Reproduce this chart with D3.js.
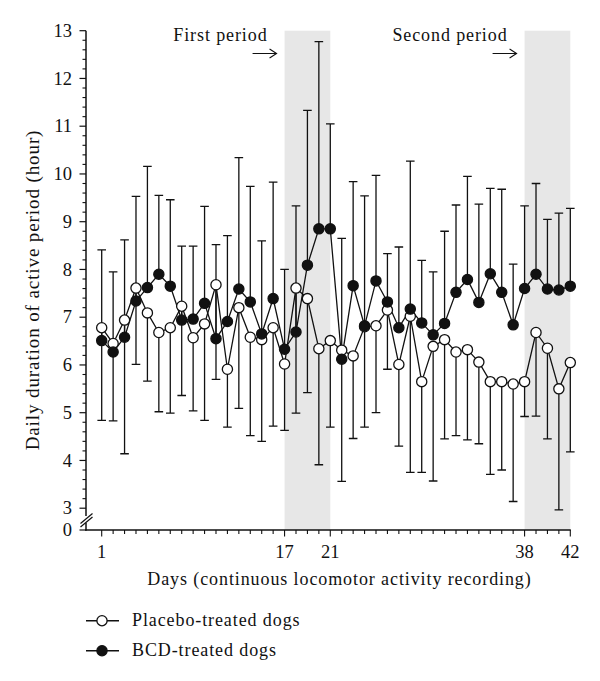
<!DOCTYPE html>
<html>
<head>
<meta charset="utf-8">
<script src="https://cdn.jsdelivr.net/npm/d3@7"></script>
<style>
  html, body { margin: 0; padding: 0; background: #fff; }
  svg { display: block; }
  text { font-family: "Liberation Serif", "Times New Roman", serif; fill: #111; }
</style>
</head>
<body>
<svg id="chart" width="600" height="681"></svg>
<script>
// ---------------- data ----------------
const days = d3.range(1, 43);
const placeboMean = [6.78, 6.45, 6.94, 7.61, 7.09, 6.68, 6.78, 7.23, 6.57, 6.86,
  7.68, 5.91, 7.20, 6.58, 6.53, 6.78, 6.02, 7.61, 7.39, 6.34,
  6.51, 6.31, 6.19, 6.80, 6.82, 7.15, 6.01, 7.02, 5.65, 6.39,
  6.53, 6.27, 6.32, 6.06, 5.65, 5.65, 5.60, 5.65, 6.68, 6.35,
  5.50, 6.05];
const placeboLow = [4.84, 4.83, 4.14, 6.01, 5.66, 5.02, 4.99, 5.36, 5.04, 4.84,
  5.70, 4.70, 5.09, 4.52, 4.40, 4.72, 4.63, 4.99, 5.42, 3.91,
  4.70, 3.56, 4.46, 4.70, 5.00, 5.91, 4.30, 3.75, 3.75, 3.57,
  4.45, 4.52, 4.43, 4.35, 3.71, 3.80, 3.14, 4.92, 4.93, 4.45,
  2.77, 4.18];
const bcdMean = [6.51, 6.27, 6.58, 7.34, 7.62, 7.90, 7.65, 6.94, 6.96, 7.29,
  6.55, 6.91, 7.59, 7.32, 6.65, 7.39, 6.33, 6.69, 8.09, 8.85,
  8.85, 6.12, 7.66, 6.82, 7.76, 7.32, 6.78, 7.17, 6.88, 6.63,
  6.87, 7.52, 7.79, 7.31, 7.91, 7.52, 6.84, 7.60, 7.90, 7.59,
  7.57, 7.65];
const bcdHigh = [8.41, 7.95, 8.62, 9.53, 10.16, 9.55, 9.46, 8.49, 8.49, 9.32,
  8.52, 8.71, 10.34, 9.74, 8.60, 9.83, 8.00, 9.33, 11.33, 12.77,
  11.05, 8.65, 9.84, 9.54, 9.97, 8.33, 8.47, 10.27, 8.19, 7.95,
  8.80, 9.35, 9.95, 9.37, 9.70, 9.68, 8.11, 9.33, 9.80, 9.05,
  9.18, 9.28];
const yTickValues = [0, 3, 4, 5, 6, 7, 8, 9, 10, 11, 12, 13];
const xLabelDays = [1, 17, 21, 38, 42];
const periods = [{start: 17, end: 21, label: "First period"},
                 {start: 38, end: 42, label: "Second period"}];
const seriesNames = ["Placebo-treated dogs", "BCD-treated dogs"];

// ---------------- scales ----------------
const svg = d3.select("#chart");
const axisX = 86;
const x = d3.scaleLinear().domain([1, 42]).range([101.7, 570.3]);
const y = d3.scaleLinear().domain([0, 3, 13]).range([530, 508.2, 30.7]);

// shaded periods
svg.append("g").selectAll("rect").data(periods).join("rect")
  .attr("x", d => x(d.start)).attr("width", d => x(d.end) - x(d.start))
  .attr("y", y(13)).attr("height", y(0) - y(13))
  .attr("fill", "#e7e7e7");

// period labels + arrows
const pl = svg.append("g");
periods.forEach(p => {
  pl.append("text").attr("x", x(p.start) - 17).attr("y", 41)
    .attr("text-anchor", "end").attr("font-size", 18).attr("letter-spacing", 0.9)
    .text(p.label);
  const xe = x(p.start) - 8, xs = xe - 24, ya = 53.5;
  pl.append("path")
    .attr("d", `M${xs},${ya}H${xe}M${xe - 7},${ya - 4.5}L${xe},${ya}L${xe - 7},${ya + 4.5}`)
    .attr("fill", "none").attr("stroke", "#111").attr("stroke-width", 1.1);
});

// ---------------- axes ----------------
const ax = svg.append("g").attr("stroke", "#111").attr("fill", "none");
// y axis line with break
ax.append("line").attr("x1", axisX).attr("x2", axisX).attr("y1", y(13)).attr("y2", 516)
  .attr("stroke-width", 1.5);
ax.append("line").attr("x1", axisX).attr("x2", axisX).attr("y1", 523).attr("y2", y(0) + 0.75)
  .attr("stroke-width", 1.5);
ax.append("line").attr("x1", 80.5).attr("y1", 523.5).attr("x2", 92.5).attr("y2", 513.5).attr("stroke-width", 1.2);
ax.append("line").attr("x1", 80.5).attr("y1", 527).attr("x2", 92.5).attr("y2", 517).attr("stroke-width", 1.2);
// y ticks: minor every 0.2 between 3 and 13
const minor = d3.range(3, 13.001, 0.2).map(v => +v.toFixed(1)).filter(v => Math.abs(v - Math.round(v)) > 0.01);
ax.selectAll(".ymin").data(minor).join("line")
  .attr("x1", axisX - 3.5).attr("x2", axisX).attr("y1", d => y(d)).attr("y2", d => y(d))
  .attr("stroke-width", 1.1);
ax.selectAll(".ymaj").data(yTickValues).join("line")
  .attr("x1", axisX - 6.5).attr("x2", axisX).attr("y1", d => y(d)).attr("y2", d => y(d))
  .attr("stroke-width", 1.2);
svg.append("g").selectAll("text").data(yTickValues).join("text")
  .attr("x", 72).attr("y", d => y(d)).attr("dy", "0.34em")
  .attr("text-anchor", "end").attr("font-size", 18.5)
  .text(d => d);

// x axis
ax.append("line").attr("x1", axisX - 0.75).attr("x2", x(42) + 0.5).attr("y1", y(0)).attr("y2", y(0))
  .attr("stroke-width", 1.5);
ax.selectAll(".xt").data(days).join("line")
  .attr("x1", d => x(d)).attr("x2", d => x(d))
  .attr("y1", y(0)).attr("y2", d => y(0) + (xLabelDays.includes(d) ? 6.5 : 4))
  .attr("stroke-width", 1.1);
svg.append("g").selectAll("text").data(xLabelDays).join("text")
  .attr("x", d => x(d)).attr("y", 558).attr("text-anchor", "middle").attr("font-size", 18.5)
  .text(d => d);

// axis titles
svg.append("text").attr("x", 339.5).attr("y", 585).attr("text-anchor", "middle")
  .attr("font-size", 18).attr("letter-spacing", 0.9)
  .text("Days (continuous locomotor activity recording)");
svg.append("text").attr("transform", "translate(39,290) rotate(-90)").attr("text-anchor", "middle")
  .attr("font-size", 19).attr("letter-spacing", 0.9)
  .text("Daily duration of active period (hour)");

// ---------------- marks ----------------
const cap = 4.3;
const eb = svg.append("g").attr("stroke", "#111").attr("stroke-width", 1.3).attr("fill", "none");
days.forEach((d, i) => {
  const xi = x(d);
  // BCD: upward bar
  eb.append("path").attr("d",
    `M${xi},${y(bcdMean[i])}V${y(bcdHigh[i])}M${xi - cap},${y(bcdHigh[i])}H${xi + cap}`);
  // Placebo: downward bar
  eb.append("path").attr("d",
    `M${xi},${y(placeboMean[i])}V${y(placeboLow[i])}M${xi - cap},${y(placeboLow[i])}H${xi + cap}`);
});

const line = d3.line().x((v, i) => x(days[i])).y(v => y(v));
svg.append("path").datum(placeboMean).attr("d", line)
  .attr("fill", "none").attr("stroke", "#111").attr("stroke-width", 1.3);
svg.append("path").datum(bcdMean).attr("d", line)
  .attr("fill", "none").attr("stroke", "#111").attr("stroke-width", 1.3);

const r = 5.1;
svg.append("g").selectAll("circle").data(placeboMean).join("circle")
  .attr("cx", (v, i) => x(days[i])).attr("cy", v => y(v)).attr("r", r)
  .attr("fill", "#fff").attr("stroke", "#111").attr("stroke-width", 1.3);
svg.append("g").selectAll("circle").data(bcdMean).join("circle")
  .attr("cx", (v, i) => x(days[i])).attr("cy", v => y(v)).attr("r", r)
  .attr("fill", "#111").attr("stroke", "#111").attr("stroke-width", 1.3);

// ---------------- legend ----------------
const lg = svg.append("g");
seriesNames.forEach((name, i) => {
  const ly = 620.7 + i * 30;
  lg.append("line").attr("x1", 86).attr("x2", 119).attr("y1", ly).attr("y2", ly)
    .attr("stroke", "#111").attr("stroke-width", 1.4);
  lg.append("circle").attr("cx", 102).attr("cy", ly).attr("r", r)
    .attr("fill", i === 0 ? "#fff" : "#111").attr("stroke", "#111").attr("stroke-width", 1.3);
  lg.append("text").attr("x", 132).attr("y", ly + 5.5).attr("font-size", 18).attr("letter-spacing", 0.9)
    .text(name);
});
</script>
</body>
</html>
